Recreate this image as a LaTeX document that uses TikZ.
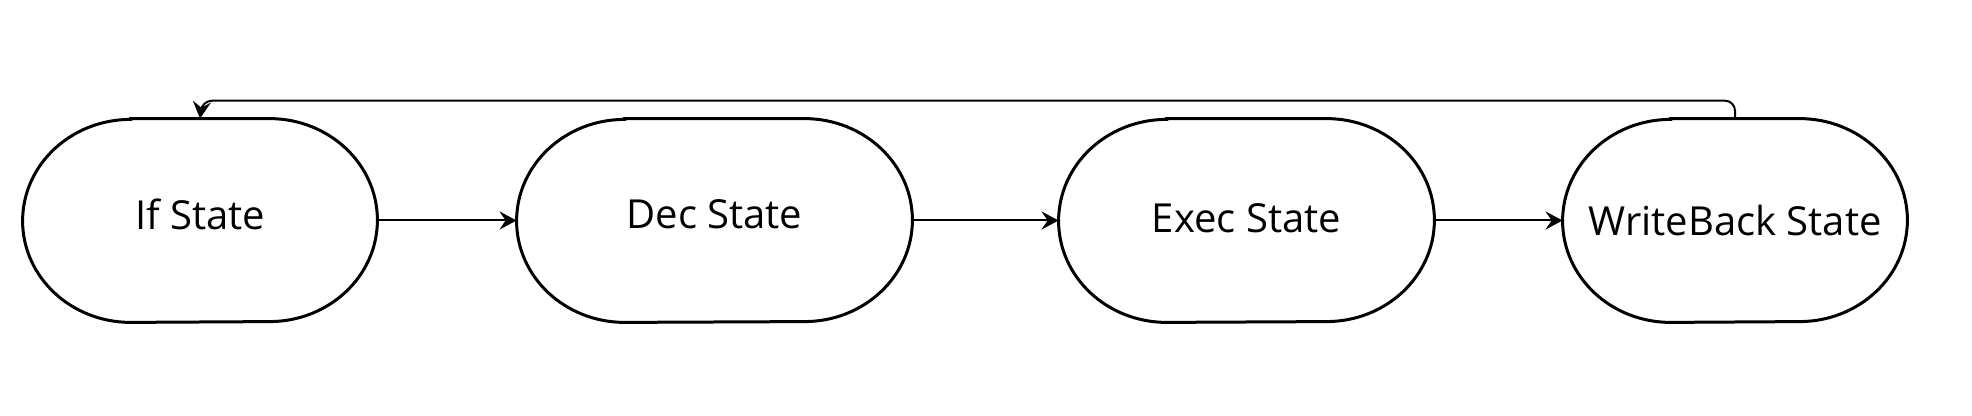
\documentclass[tikz,border=0pt]{standalone}
\usepackage{fontspec}
\setmainfont{Open Sans}
\usetikzlibrary{arrows.meta}
\begin{document}
\begin{tikzpicture}[x=0.5pt,y=-0.5pt,
    state/.style={rectangle,minimum height=101.5pt,inner sep=0pt,
      font=\fontsize{20}{24}\selectfont},
    outline/.style={line width=1.5pt},
    flow/.style={line width=1pt,-{Stealth[length=8.5pt,width=9pt,inset=3pt]}}]
    \useasboundingbox (0,0) rectangle (1972,416);
    \node[state,minimum width=177pt,text depth=6.5pt] (if) at (200,220.5) {If State};
    \node[state,minimum width=197.5pt,text depth=6.5pt] (dec) at (714.5,220.5) {Dec State};
    \node[state,minimum width=187.5pt,text depth=2.5pt] (exec) at (1246.5,220.5) {Exec State};
    \node[state,minimum width=172pt] (wb) at (1735,220.5) {WriteBack State};
    \foreach \n in {if,dec,exec,wb} {
      \draw[outline] ([xshift=54pt]\n.north west) -- ([xshift=-54pt]\n.north east)
        arc[start angle=90,end angle=-90,x radius=54pt,y radius=50.75pt]
        -- ([xshift=54pt]\n.south west)
        arc[start angle=270,end angle=90,x radius=54pt,y radius=50.75pt] -- cycle;
    }
    \foreach \a/\b in {if/dec,dec/exec,exec/wb} {
      \draw[flow] (\a) -- (\b);
    }
  %  back to the first state
    \coordinate (back) at (202,100.7);
    \draw[flow,rounded corners=5pt] (wb.north) |- (back) -- (if.north);
\end{tikzpicture}
\end{document}
